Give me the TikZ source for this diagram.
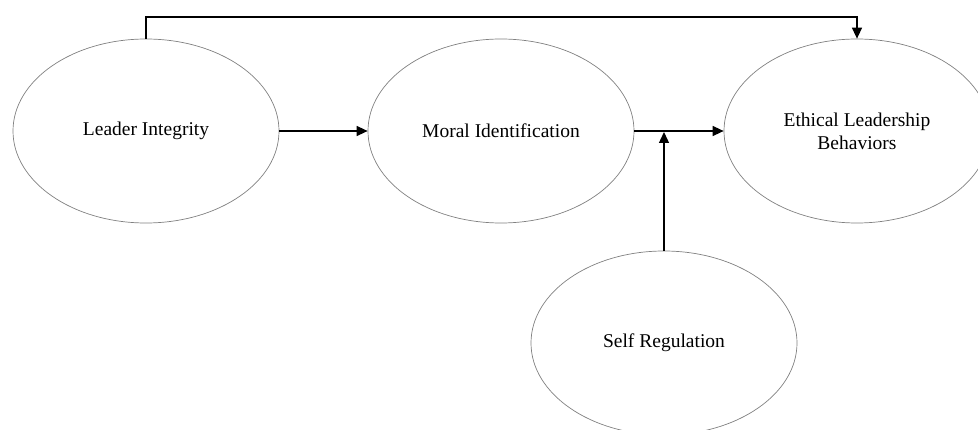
\documentclass[tikz,border=0pt]{standalone}
\usepackage{fontspec}
\setmainfont{Liberation Serif}
\usetikzlibrary{shapes.geometric,arrows.meta,calc}
\begin{document}
\begin{tikzpicture}[x=1pt,y=-1pt,
  oval/.style={ellipse,draw=black!50,line width=0.7pt,minimum width=266pt,minimum height=184pt,inner sep=0pt,align=center,font=\fontsize{19.5}{23}\selectfont},
  arr/.style={line width=1.3pt,-{Triangle[length=11pt,width=10pt]}}]
\useasboundingbox (0,0) rectangle (978,430);
\node[oval] (li) at (146,131) {Leader Integrity};
\node[oval] (mi) at (501,131) {Moral Identification};
\node[oval] (el) at (857,131) {Ethical Leadership\\Behaviors};
\node[oval] (sr) at (664,343) {Self Regulation};
\coordinate (top) at (0,17);
\draw[arr] (li.east) -- (mi.west);
\draw[arr] (mi.east) -- (el.west);
\draw[arr] (li.north) -- (li.north |- top) -- (el.north |- top) -- (el.north);
\draw[arr] (sr.north) -- ($(sr.north |- mi.east)+(0,1)$);
\end{tikzpicture}
\end{document}
